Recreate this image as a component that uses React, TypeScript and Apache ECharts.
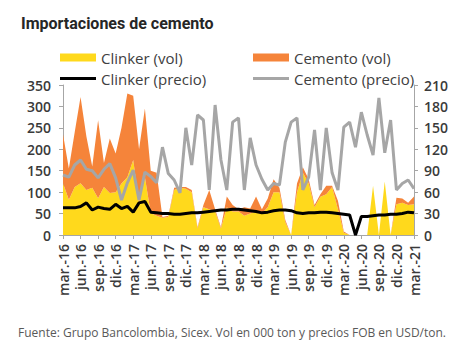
import React, { useEffect, useRef } from "react";
import * as echarts from "echarts";

const monthNames = ["ene.", "feb.", "mar.", "abr.", "may.", "jun.", "jul.", "ago.", "sep.", "oct.", "nov.", "dic."];
const categories: string[] = [];
for (let k = 0; k < 61; k++) {
  const m = (2 + k) % 12;
  const y = 16 + Math.floor((2 + k) / 12);
  categories.push(monthNames[m] + "-" + y);
}

const clinkerVol = [
  121, 82, 112, 121, 105, 110, 86, 112, 98, 100,
  120, 135, 175, 75, 135, 51, 45, 40, 42, 105,
  110, 108, 100, 15, 65, 60, 55, 15, 65, 55,
  55, 45, 50, 55, 50, 65, 100, 100, 30, 0,
  100, 145, 120, 65, 89, 95, 112, 60, 5, 0,
  0, 0, 0, 115, 0, 125, 0, 72, 75, 70,
  72,
];

const cementoVol = [
  114, 73, 128, 201, 125, 50, 182, 56, 127, 90,
  130, 195, 150, 125, 160, 99, 100, 2, 3, 5,
  2, 4, 5, 3, 5, 45, 5, 3, 25, 15,
  5, 20, 12, 35, 10, 20, 30, 10, 5, 0,
  20, 13, 10, 5, 6, 20, 3, 20, 3, 0,
  0, 0, 0, 0, 0, 0, 0, 15, 10, 5,
  18,
];

const clinkerPrecio = [
  38, 38, 38, 40, 45, 35, 39, 37, 36, 43,
  37, 40, 32, 45, 47, 32, 31, 30, 30, 29,
  29, 30, 31, 31, 32, 33, 34, 35, 35, 36,
  36, 35, 34, 33, 31, 32, 34, 35, 35, 34,
  31, 30, 31, 31, 32, 32, 31, 30, 29, 28,
  0, 26, 26, 27, 28, 28, 29, 29, 30, 32,
  31,
];

const cementoPrecio = [
  84, 81, 98, 105, 92, 90, 80, 92, 100, 80,
  49, 73, 91, 49, 88, 82, 73, 123, 86, 77,
  59, 150, 98, 168, 161, 63, 182, 105, 63, 158,
  164, 63, 136, 98, 78, 63, 72, 70, 130, 158,
  164, 63, 81, 147, 63, 150, 87, 63, 151, 158,
  123, 172, 140, 112, 192, 115, 161, 63, 72, 77,
  65,
];

const YELLOW = "#FFD91C";
const ORANGE = "#F5843A";
const GREY = "#A6A6A6";
const BLACK = "#000000";
const FONT = "Open Sans";
const LABEL = "#3a3a3a";

export default function App() {
  const ref = useRef<HTMLDivElement>(null);
  useEffect(() => {
    if (!ref.current) return;
    const chart = echarts.init(ref.current, null, { renderer: "svg" });
    const legendText = { fontSize: 15, color: "#404040", fontFamily: FONT };
    const option: any = {
      animation: false,
      textStyle: { fontFamily: FONT },
      title: {
        text: "Importaciones de cemento",
        left: 16,
        top: 10,
        textStyle: { fontSize: 16, fontWeight: "bold", color: "#262626", fontFamily: "Roboto" },
      },
      legend: [
        { data: [{ name: "Clinker (vol)", icon: "rect" }], left: 55, top: 45, itemWidth: 36, itemHeight: 8, itemGap: 4, textStyle: legendText, selectedMode: false },
        { data: [{ name: "Cemento (vol)", icon: "rect" }], left: 248, top: 45, itemWidth: 36, itemHeight: 8, itemGap: 4, textStyle: legendText, selectedMode: false },
        { data: [{ name: "Clinker (precio)", icon: "rect" }], left: 55, top: 66, itemWidth: 36, itemHeight: 3, itemGap: 4, textStyle: legendText, selectedMode: false },
        { data: [{ name: "Cemento (precio)", icon: "rect" }], left: 248, top: 66, itemWidth: 36, itemHeight: 3, itemGap: 4, textStyle: legendText, selectedMode: false },
      ],
      grid: { left: 63, right: 60, top: 85, bottom: 120 },
      xAxis: {
        type: "category",
        data: categories,
        boundaryGap: false,
        axisLine: { lineStyle: { color: GREY } },
        axisTick: { interval: 2, length: 4, lineStyle: { color: GREY } },
        axisLabel: { interval: 2, rotate: 90, fontSize: 14, fontWeight: 600, color: LABEL, margin: 9, fontFamily: FONT },
      },
      yAxis: [
        {
          type: "value", min: 0, max: 350, interval: 50,
          axisLine: { show: true, lineStyle: { color: GREY } },
          axisTick: { show: true, length: 4, lineStyle: { color: GREY } },
          splitLine: { show: false },
          axisLabel: { fontSize: 14, fontWeight: 600, color: LABEL, margin: 12, fontFamily: FONT },
        },
        {
          type: "value", min: 0, max: 210, interval: 30, position: "right",
          axisLine: { show: true, lineStyle: { color: GREY } },
          axisTick: { show: true, length: 4, lineStyle: { color: GREY } },
          splitLine: { show: false },
          axisLabel: { fontSize: 14, fontWeight: 600, color: LABEL, margin: 10, fontFamily: FONT },
        },
      ],
      series: [
        {
          name: "Clinker (vol)", type: "line", stack: "vol", data: clinkerVol,
          symbol: "none", lineStyle: { width: 0 }, itemStyle: { color: YELLOW },
          areaStyle: { color: YELLOW, opacity: 1 },
        },
        {
          name: "Cemento (vol)", type: "line", stack: "vol", data: cementoVol,
          symbol: "none", lineStyle: { width: 0 }, itemStyle: { color: ORANGE },
          areaStyle: { color: ORANGE, opacity: 1 },
        },
        {
          name: "Cemento (precio)", type: "line", yAxisIndex: 1, data: cementoPrecio,
          symbol: "none", lineStyle: { width: 3, color: GREY }, itemStyle: { color: GREY },
        },
        {
          name: "Clinker (precio)", type: "line", yAxisIndex: 1, data: clinkerPrecio,
          symbol: "none", lineStyle: { width: 3, color: BLACK }, itemStyle: { color: BLACK },
        },
      ],
      graphic: [
        {
          type: "text", left: 18, top: 326,
          style: {
            text: "Fuente: Grupo Bancolombia, Sicex. Vol en 000 ton y precios FOB en USD/ton.",
            fontSize: 12, fill: "#595959", fontFamily: FONT,
          },
        },
      ],
    };
    chart.setOption(option);
    return () => chart.dispose();
  }, []);
  return (
    <div
      ref={ref}
      style={{ position: "fixed", left: 0, top: 0, width: 474, height: 355, background: "#fff" }}
    />
  );
}
